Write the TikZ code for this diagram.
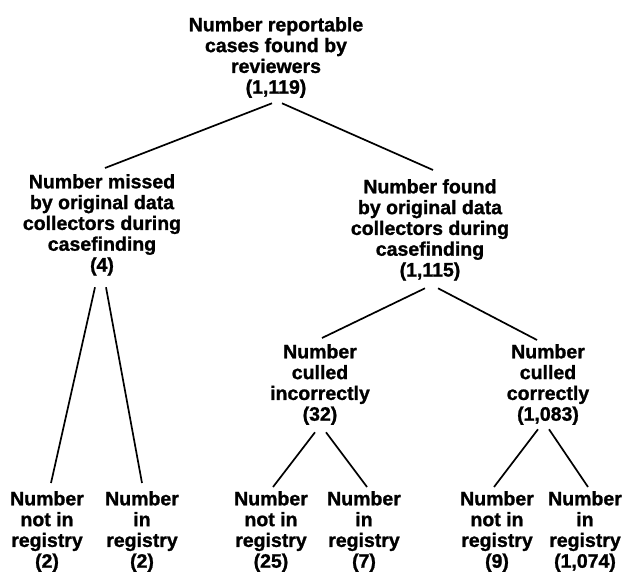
\documentclass[tikz,border=0pt]{standalone}
\usepackage{fontspec}
\setmainfont{Liberation Sans}
\newfontface\labfont{Liberation Sans Bold}[FakeBold=1.2]
\begin{document}
\begin{tikzpicture}[x=1pt,y=-1pt,
  lbl/.style={font=\labfont\fontsize{19.5}{20.8}\selectfont, align=center, inner sep=0pt, anchor=north},
  conn/.style={line width=1.7pt}]
\useasboundingbox (0,0) rectangle (632,572);
\clip (0,0) rectangle (632,572);
\node[lbl] (top) at (276,17) {Number reportable\\cases found by\\reviewers\\(1,119)};
\node[lbl] (missed) at (102,174) {Number missed\\by original data\\collectors during\\casefinding\\(4)};
\node[lbl] (found) at (430,179) {Number found\\by original data\\collectors during\\casefinding\\(1,115)};
\node[lbl] (incorrect) at (320,344) {Number\\culled\\incorrectly\\(32)};
\node[lbl] (correct) at (548,344) {Number\\culled\\correctly\\(1,083)};
\node[lbl] (l1) at (47,491) {Number\\not in\\registry\\(2)};
\node[lbl] (l2) at (142,491) {Number\\in\\registry\\(2)};
\node[lbl] (l3) at (271,491) {Number\\not in\\registry\\(25)};
\node[lbl] (l4) at (364,491) {Number\\in\\registry\\(7)};
\node[lbl] (l5) at (497,491) {Number\\not in\\registry\\(9)};
\node[lbl] (l6) at (585,491) {Number\\in\\registry\\(1,074)};
\draw[conn] ([xshift=-4pt,yshift=-5.3pt]top.south) -- ([xshift=3pt,yshift=6pt]missed.north);
\draw[conn] ([xshift=6pt,yshift=-5.3pt]top.south) -- ([xshift=3pt,yshift=9pt]found.north);
\draw[conn] ([xshift=-7pt,yshift=-11.5pt]missed.south) -- ([xshift=4pt,yshift=8pt]l1.north);
\draw[conn] ([xshift=4pt,yshift=-11.5pt]missed.south) -- ([xshift=0pt,yshift=8pt]l2.north);
\draw[conn] ([xshift=-5pt,yshift=-7.5pt]found.south) -- ([xshift=2pt,yshift=6pt]incorrect.north);
\draw[conn] ([xshift=8pt,yshift=-7.5pt]found.south) -- ([xshift=-11pt,yshift=4pt]correct.north);
\draw[conn] ([xshift=-5pt,yshift=-7.3pt]incorrect.south) -- ([xshift=2pt,yshift=4pt]l3.north);
\draw[conn] ([xshift=6pt,yshift=-7.3pt]incorrect.south) -- ([xshift=3pt,yshift=4pt]l4.north);
\draw[conn] ([xshift=-10pt,yshift=-4.3pt]correct.south) -- ([xshift=-3pt,yshift=4pt]l5.north);
\draw[conn] ([xshift=1pt,yshift=-4.3pt]correct.south) -- ([xshift=3pt,yshift=4pt]l6.north);
\end{tikzpicture}
\end{document}
